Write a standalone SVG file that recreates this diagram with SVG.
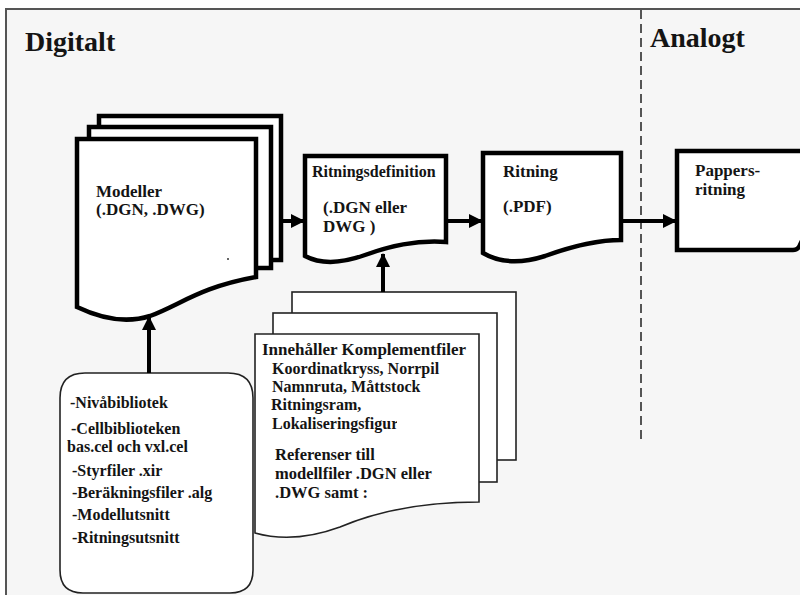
<svg xmlns="http://www.w3.org/2000/svg" width="800" height="595" viewBox="0 0 800 595">
<defs>
<style>
.t{font-family:"Liberation Serif","Times New Roman",serif;font-weight:bold;fill:#141414}
.thick{fill:#fff;stroke:#000;stroke-width:4.5;stroke-linejoin:miter}
.thin{fill:#fff;stroke:#222;stroke-width:1.6}
.conn{stroke:#000;stroke-width:4;fill:none}
</style>
<marker id="ah" markerUnits="userSpaceOnUse" markerWidth="14" markerHeight="14" viewBox="0 0 14 14" refX="13" refY="7" orient="auto">
<path d="M0,0 L14,7 L0,14 Z" fill="#000"/>
</marker>
<clipPath id="clipRd"><rect x="300" y="150" width="142" height="40"/></clipPath>
<clipPath id="clipLok"><rect x="260" y="412" width="137" height="25"/></clipPath>
</defs>

<rect x="0" y="0" width="800" height="595" fill="#fff"/>
<g id="frame">
<rect x="6" y="9" width="820" height="620" fill="#f6f6f6" stroke="#555" stroke-width="2"/>
<text class="t" x="25" y="51" font-size="28">Digitalt</text>
<text class="t" x="650" y="47" font-size="28">Analogt</text>
<line x1="641" y1="10" x2="641" y2="443" stroke="#555" stroke-width="2" stroke-dasharray="9 5"/>
</g>

<g id="node-modeller">
<rect class="thick" x="99" y="116" width="182" height="144"/>
<rect class="thick" x="89" y="127" width="182" height="141"/>
<path class="thick" d="M77 139 H256 V277 C200 287 180 305 150 316 C125 324 100 318 77 307 Z"/>
<text class="t" x="96" y="197" font-size="17">Modeller</text>
<text class="t" x="96" y="215" font-size="17">(.DGN, .DWG)</text>
<circle cx="228" cy="259" r="1" fill="#333"/>
</g>

<g id="node-ritningsdefinition">
<path class="thick" d="M305 156 H446 V242 C415 240 390 246 365 255 C340 264 320 264 305 256 Z"/>
<text class="t" x="312" y="177" font-size="16" clip-path="url(#clipRd)">Ritningsdefinition</text>
<text class="t" x="323" y="213" font-size="17">(.DGN eller</text>
<text class="t" x="323" y="232" font-size="17">DWG )</text>
</g>

<g id="node-ritning">
<path class="thick" d="M483 153 H621 V240 C595 240 570 247 545 256 C520 264 500 263 483 253 Z"/>
<text class="t" x="503" y="177" font-size="17">Ritning</text>
<text class="t" x="503" y="212" font-size="17">(.PDF)</text>
</g>

<g id="node-pappersritning">
<path class="thick" d="M810 151 H677 V250 H793 Q798 250 800 245 L806 232"/>
<text class="t" x="695" y="176" font-size="17">Pappers-</text>
<text class="t" x="695" y="195" font-size="17">ritning</text>
</g>

<g id="node-bibliotek">
<path class="thin" d="M60 398 Q60 373 85 373 H228 Q253 373 253 398 V570 Q253 593 230 593 H83 Q60 593 60 570 Z"/>
<text class="t" x="70" y="408" font-size="16">-Nivåbibliotek</text>
<text class="t" x="71" y="434" font-size="16">-Cellbiblioteken</text>
<text class="t" x="67" y="452" font-size="16">bas.cel och vxl.cel</text>
<text class="t" x="72" y="476" font-size="16">-Styrfiler .xir</text>
<text class="t" x="72" y="498" font-size="16">-Beräkningsfiler .alg</text>
<text class="t" x="72" y="520" font-size="16">-Modellutsnitt</text>
<text class="t" x="72" y="543" font-size="16">-Ritningsutsnitt</text>
</g>

<g id="node-komplement">
<rect class="thin" x="292" y="292" width="224" height="168"/>
<rect class="thin" x="273" y="313" width="224" height="169"/>
<path class="thin" d="M255 334 H479 V502 C430 502 380 510 340 527 C310 538 280 540 255 533 Z"/>
<text class="t" x="262" y="355" font-size="17">Innehåller Komplementfiler</text>
<text class="t" x="272" y="374" font-size="16">Koordinatkryss, Norrpil</text>
<text class="t" x="272" y="392" font-size="16">Namnruta, Måttstock</text>
<text class="t" x="271" y="410" font-size="16">Ritningsram,</text>
<text class="t" x="272" y="429" font-size="16" clip-path="url(#clipLok)">Lokaliseringsfigur</text>
<text class="t" x="275" y="460" font-size="16.5">Referenser till</text>
<text class="t" x="275" y="479" font-size="16.5">modellfiler  .DGN eller</text>
<text class="t" x="275" y="498" font-size="16.5">.DWG samt :</text>
</g>

<g id="connectors">
<line class="conn" x1="283" y1="221" x2="304" y2="221" marker-end="url(#ah)"/>
<line class="conn" x1="448" y1="221" x2="482" y2="221" marker-end="url(#ah)"/>
<line class="conn" x1="623" y1="221" x2="676" y2="221" marker-end="url(#ah)"/>
<line class="conn" x1="149" y1="373" x2="149" y2="317" marker-end="url(#ah)"/>
<line class="conn" x1="383" y1="292" x2="383" y2="254" marker-end="url(#ah)"/>
</g>
</svg>
